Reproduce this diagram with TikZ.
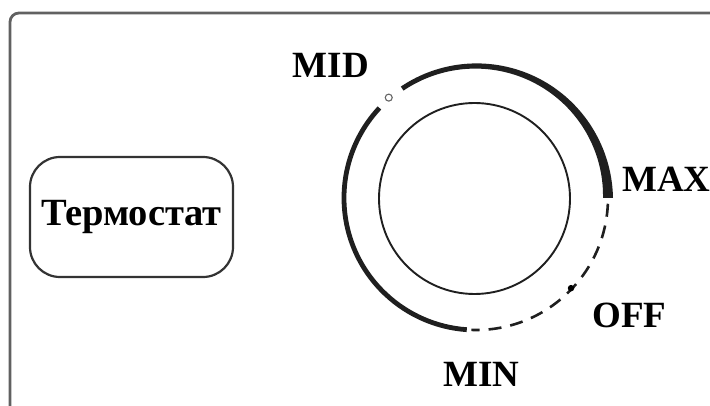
\documentclass[tikz,border=0pt]{standalone}
\usepackage{fontspec}
\setmainfont{Liberation Serif}
\begin{document}
\begin{tikzpicture}[x=1pt,y=1pt,
  lbl/.style={font=\fontsize{37}{40}\selectfont\bfseries, inner sep=0pt},
  ink/.style={draw=black!88},
]
\useasboundingbox (0,0) rectangle (710,405);
% outer frame
\draw[draw=black!62, line width=2.8pt, rounded corners=9pt] (10,-5) -- (10,392) -- (716,392);
% thermostat box
\node[draw=black!80, line width=2.2pt, rounded corners=30pt, minimum width=203pt, minimum height=120pt, inner sep=0pt,
  font=\fontsize{38.5}{42}\selectfont\bfseries] (box) at (131.5,188) {Термостат};
% dial
\coordinate (C) at (476,207);
\node[draw=black!88, line width=1.9pt, circle, minimum size=191pt, inner sep=0pt] (knob) at (474.5,206.5) {};
% left solid arc MID -> MIN
\draw[ink, line width=4.8pt] ([shift={(C)}]137:132pt) arc[start angle=137, end angle=266, radius=132pt];
% tapered arc MID -> MAX
\fill[black!88] plot[domain=124:0, samples=80] ({476+(132+(4.8+5.2*((124-\x)/124)^2)/2)*cos(\x)}, {207+(132+(4.8+5.2*((124-\x)/124)^2)/2)*sin(\x)})
  -- plot[domain=0:124, samples=80] ({476+(132-(4.8+5.2*((124-\x)/124)^2)/2)*cos(\x)}, {207+(132-(4.8+5.2*((124-\x)/124)^2)/2)*sin(\x)}) -- cycle;
% dashed arc MAX -> MIN
\draw[ink, line width=2.6pt, dash pattern=on 13pt off 9pt] ([shift={(C)}]-2.5:132pt) arc[start angle=-2.5, end angle=-92, radius=132pt];
% markers
\node[draw=black!60, line width=1.1pt, circle, minimum size=7pt, inner sep=0pt, fill=white] (mid) at ([shift={(C)}]131:133pt) {};
\node[fill=black, circle, minimum size=6.5pt, inner sep=0pt] (off) at ([shift={(C)}]-43.5:131pt) {};
% labels
\node[lbl] (tMID) at (331,339.5) {MID};
\node[lbl] (tMAX) at (666.5,225.5) {MAX};
\node[lbl] (tOFF) at (629.5,89.5) {OFF};
\node[lbl] (tMIN) at (481.5,30.5) {MIN};
\end{tikzpicture}
\end{document}
